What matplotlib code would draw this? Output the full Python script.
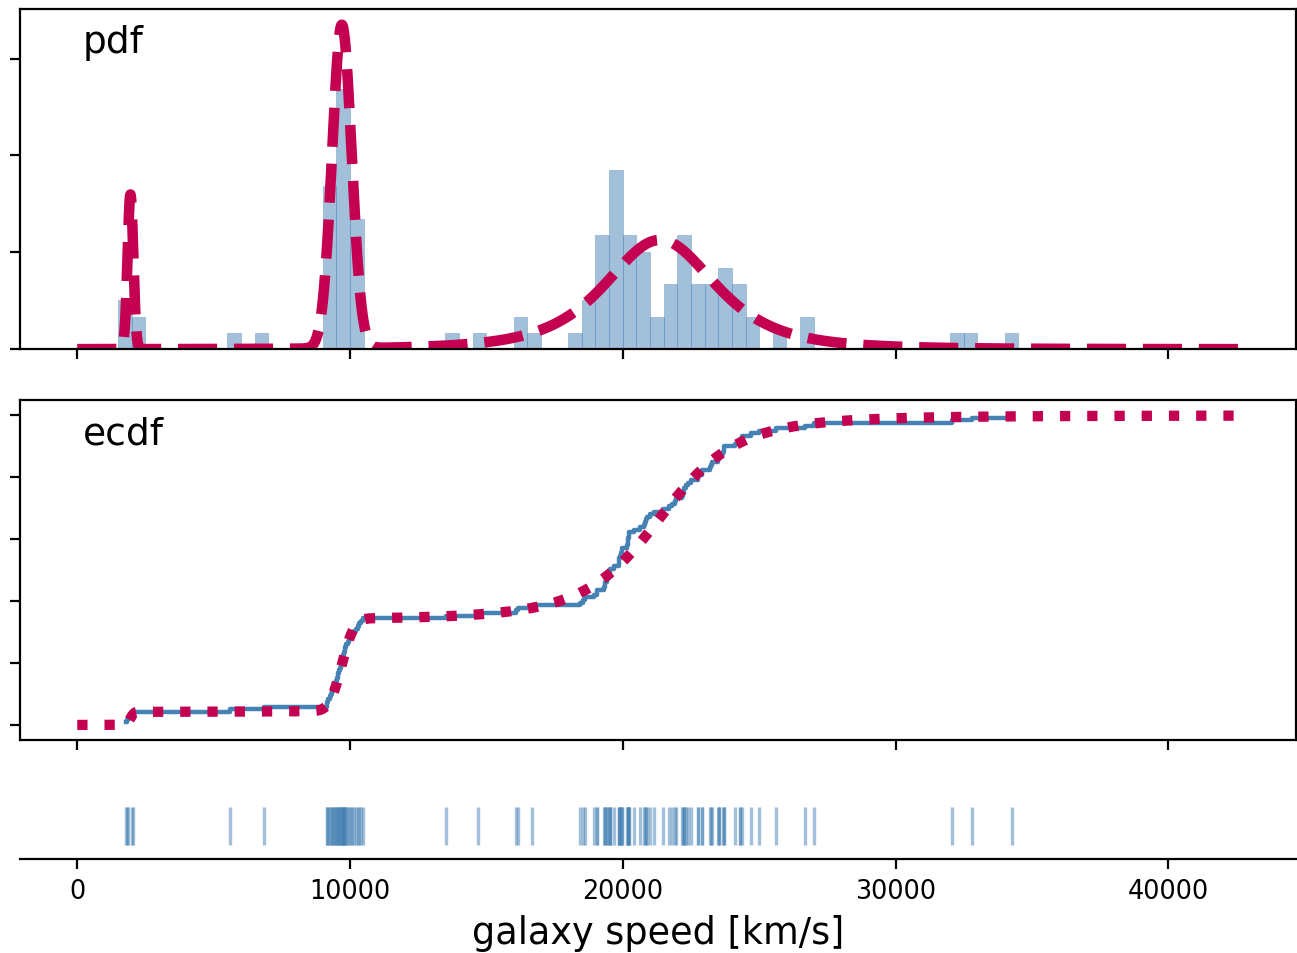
import numpy as np
import matplotlib.pyplot as plt
from matplotlib.ticker import MultipleLocator

# galaxy speeds [km/s], grouped by the clumps they fall in
speeds_near = [1780, 1810, 1850, 2010, 2040, 5600, 6850]
speeds_group_a = [9140, 9172, 9210, 9265, 9310, 9350, 9390, 9425, 9460, 9483,
                  9520, 9558, 9575, 9610, 9640, 9665, 9690, 9710, 9735, 9760,
                  9775, 9800, 9830, 9870, 9910, 9950,
                  10040, 10090, 10150, 10227, 10290, 10330, 10406, 10470]
speeds_between = [13520, 14680, 16084, 16170, 16660]
speeds_group_b = [18419, 18552, 18600, 18927, 19052, 19070, 19330, 19343, 19349,
                  19440, 19473, 19529, 19541, 19547, 19663, 19846, 19856, 19863,
                  19914, 19918, 19973, 19989, 20166, 20175, 20179, 20196, 20215,
                  20221, 20415, 20629, 20795, 20821, 20846, 20875, 20986, 21137,
                  21492, 21701, 21814, 21921, 21960, 22185, 22209, 22242, 22249,
                  22314, 22374, 22495, 22746, 22747, 22888, 22914, 23206, 23241,
                  23263, 23484, 23538, 23542, 23666, 23706, 23711, 24129, 24285,
                  24289, 24366, 24717, 24990]
speeds_far = [25633, 26690, 26995, 32065, 32789, 34279]

# fitted mixture: two normal components and one Student-t (nu=3)
weights = [0.042, 0.298, 0.66]
means = [1950, 9700, 21370]
scales = [105, 356, 2150]
kinds = ['normal', 'normal', 't3']

data = np.sort(np.array(speeds_near + speeds_group_a + speeds_between
                        + speeds_group_b + speeds_far, dtype=float))

blue = 'steelblue'
red = '#C40050'


def component_pdf(x, mu, s, kind):
    z = (x - mu) / s
    if kind == 'normal':
        return np.exp(-0.5 * z ** 2) / (s * np.sqrt(2 * np.pi))
    return 2 / (np.pi * np.sqrt(3)) * (1 + z ** 2 / 3) ** -2 / s


x = np.linspace(0, 43000, 3000)
pdf = np.zeros_like(x)
for w, mu, s, kind in zip(weights, means, scales, kinds):
    pdf += w * component_pdf(x, mu, s, kind)
cdf = np.concatenate([[0], np.cumsum((pdf[1:] + pdf[:-1]) / 2 * np.diff(x))])

ecdf = np.arange(1, len(data) + 1) / len(data)

fig, axes = plt.subplots(3, 1, sharex=True, figsize=(6.485, 4.77), dpi=200,
                         gridspec_kw={'height_ratios': [5, 5, 1]})
fig.subplots_adjust(left=0.0154, right=0.9996, top=0.9900, bottom=0.0985,
                    hspace=0.202)
ax_pdf, ax_cdf, ax_rug = axes

# density histogram with the mixture pdf on top
ax_pdf.hist(data, bins=np.arange(1500, 35000, 500), density=True,
            color=blue, alpha=0.5, edgecolor=blue, linewidth=0.25)
ax_pdf.plot(x, pdf, '--', color=red, lw=3.8)
ax_pdf.yaxis.set_major_locator(MultipleLocator(1e-4))
ax_pdf.tick_params(labelleft=False, labelbottom=False)
ax_pdf.text(0.049, 0.873, 'pdf', transform=ax_pdf.transAxes, fontsize=13.5)

# empirical cdf against the mixture cdf
ax_cdf.step(data, ecdf, where='post', color=blue, lw=1.6)
ax_cdf.plot(x, cdf, ':', color=red, lw=3.7)
ax_cdf.yaxis.set_major_locator(MultipleLocator(0.2))
ax_cdf.tick_params(labelleft=False, labelbottom=False)
ax_cdf.text(0.049, 0.871, 'ecdf', transform=ax_cdf.transAxes, fontsize=13.5)

# rug of the observations
ax_rug.vlines(data, 0.21, 0.76, color=blue, alpha=0.5, lw=1.2)
ax_rug.set_ylim(0, 1)
ax_rug.set_yticks([])
for side in ['left', 'right', 'top']:
    ax_rug.spines[side].set_visible(False)
ax_rug.tick_params(labelsize=9.2)
ax_rug.set_xlabel('galaxy speed [km/s]', fontsize=13.2, labelpad=3.5)

ax_rug.set_xlim(-2100, 44700)

fig.savefig('out.png', dpi=200)
